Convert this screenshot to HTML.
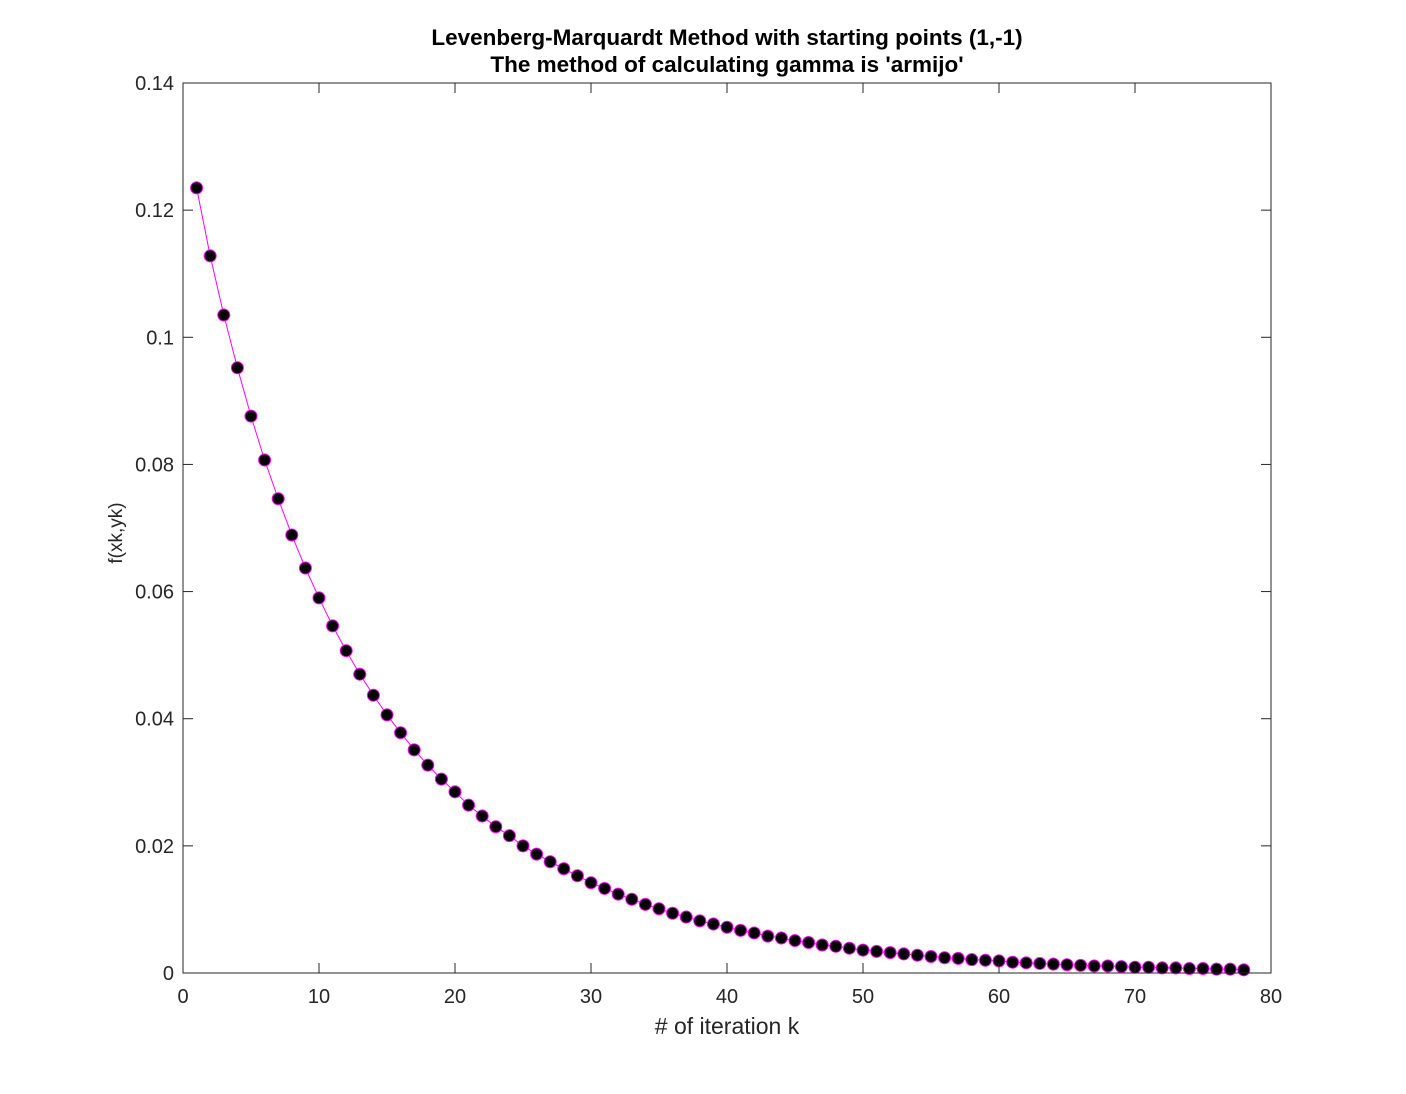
<!DOCTYPE html>
<html><head><meta charset="utf-8"><style>
body{margin:0;background:#fff;}
svg{display:block;font-family:"Liberation Sans",Arial,sans-serif;}
</style></head><body>
<svg id="chart" width="1406" height="1094">
<rect x="0" y="0" width="1406" height="1094" fill="#fff"/>
<g id="grid"></g>
<g id="series"></g>
<rect x="183" y="83" width="1088" height="890" fill="none" stroke="#262626" stroke-width="1"/>
<g id="ticks"></g>
<text x="727" y="45" text-anchor="middle" font-size="22.5" font-weight="bold" fill="#000">Levenberg-Marquardt Method with starting points (1,-1)</text>
<text x="727" y="72" text-anchor="middle" font-size="22.5" font-weight="bold" fill="#000">The method of calculating gamma is 'armijo'</text>
<text x="727" y="1034" text-anchor="middle" font-size="23" fill="#262626"># of iteration k</text>
<text x="122" y="533" text-anchor="middle" font-size="19" fill="#262626" transform="rotate(-90 122 533)">f(xk,yk)</text>
</svg>
<script>
const xTicks=[0,10,20,30,40,50,60,70,80];
const yTicks=[0,0.02,0.04,0.06,0.08,0.1,0.12,0.14];
const yTickLabels=["0","0.02","0.04","0.06","0.08","0.1","0.12","0.14"];
const fValues=[0.1235,0.1128,0.1035,0.0952,0.0876,0.0807,0.0746,0.0689,0.0637,0.0590,
0.0546,0.0507,0.0470,0.0437,0.0406,0.0378,0.0351,0.0327,0.0305,0.0285,
0.0264,0.0247,0.0230,0.0216,0.0200,0.0187,0.0175,0.0164,0.0153,0.0142,
0.0133,0.0124,0.0116,0.0108,0.0101,0.0094,0.0088,0.0082,0.0077,0.0072,
0.0067,0.0063,0.0058,0.0055,0.0051,0.0048,0.0044,0.0042,0.0039,0.0036,
0.0034,0.0032,0.0030,0.0028,0.0026,0.0024,0.0023,0.0021,0.0020,0.0019,
0.0017,0.0016,0.0015,0.0014,0.0013,0.0012,0.0011,0.0011,0.0010,0.0009,
0.0009,0.0008,0.0008,0.0007,0.0007,0.0006,0.0006,0.0005];
const NS="http://www.w3.org/2000/svg";
const X0=183,X1=1271,Y0=973,Y1=83;
function xs(v){return X0+(v-0)/(80-0)*(X1-X0);}
function ys(v){return Y0-(v-0)/(0.14-0)*(Y0-Y1);}
function mk(t,a,p){const e=document.createElementNS(NS,t);for(const k in a)e.setAttribute(k,a[k]);p.appendChild(e);return e;}
const tk=document.getElementById('ticks');
xTicks.forEach(v=>{
 const x=xs(v);
 const l=mk('line',{x1:x,x2:x,y1:Y0,y2:Y0-10,stroke:'#262626'},tk);
 
 
 const l2=mk('line',{x1:x,x2:x,y1:Y1,y2:Y1+10,stroke:'#262626'},tk);
 
 
 const t=mk('text',{x:x,y:Y0+30,'text-anchor':'middle','font-size':'20',fill:'#262626'},tk);
 t.textContent=String(v);
 
 
});
yTicks.forEach((v,i)=>{
 const y=ys(v);
 const l=mk('line',{x1:X0,x2:X0+10,y1:y,y2:y,stroke:'#262626'},tk);
 
 
 const l2=mk('line',{x1:X1,x2:X1-10,y1:y,y2:y,stroke:'#262626'},tk);
 
 
 const t=mk('text',{x:X0-9,y:y+7,'text-anchor':'end','font-size':'20',fill:'#262626'},tk);
 t.textContent=yTickLabels[i];
 
 
});
const sg=document.getElementById('series');
const pts=fValues.map((v,i)=>xs(i+1)+','+ys(v)).join(' ');
const pl=mk('polyline',{points:pts,fill:'none',stroke:'#ff00ff','stroke-width':'1'},sg);


fValues.forEach((v,i)=>{
 const c=mk('circle',{cx:xs(i+1),cy:ys(v),r:6,fill:'#000',stroke:'#ff00ff','stroke-width':'1'},sg);
 
 
});
</script>
</body></html>
